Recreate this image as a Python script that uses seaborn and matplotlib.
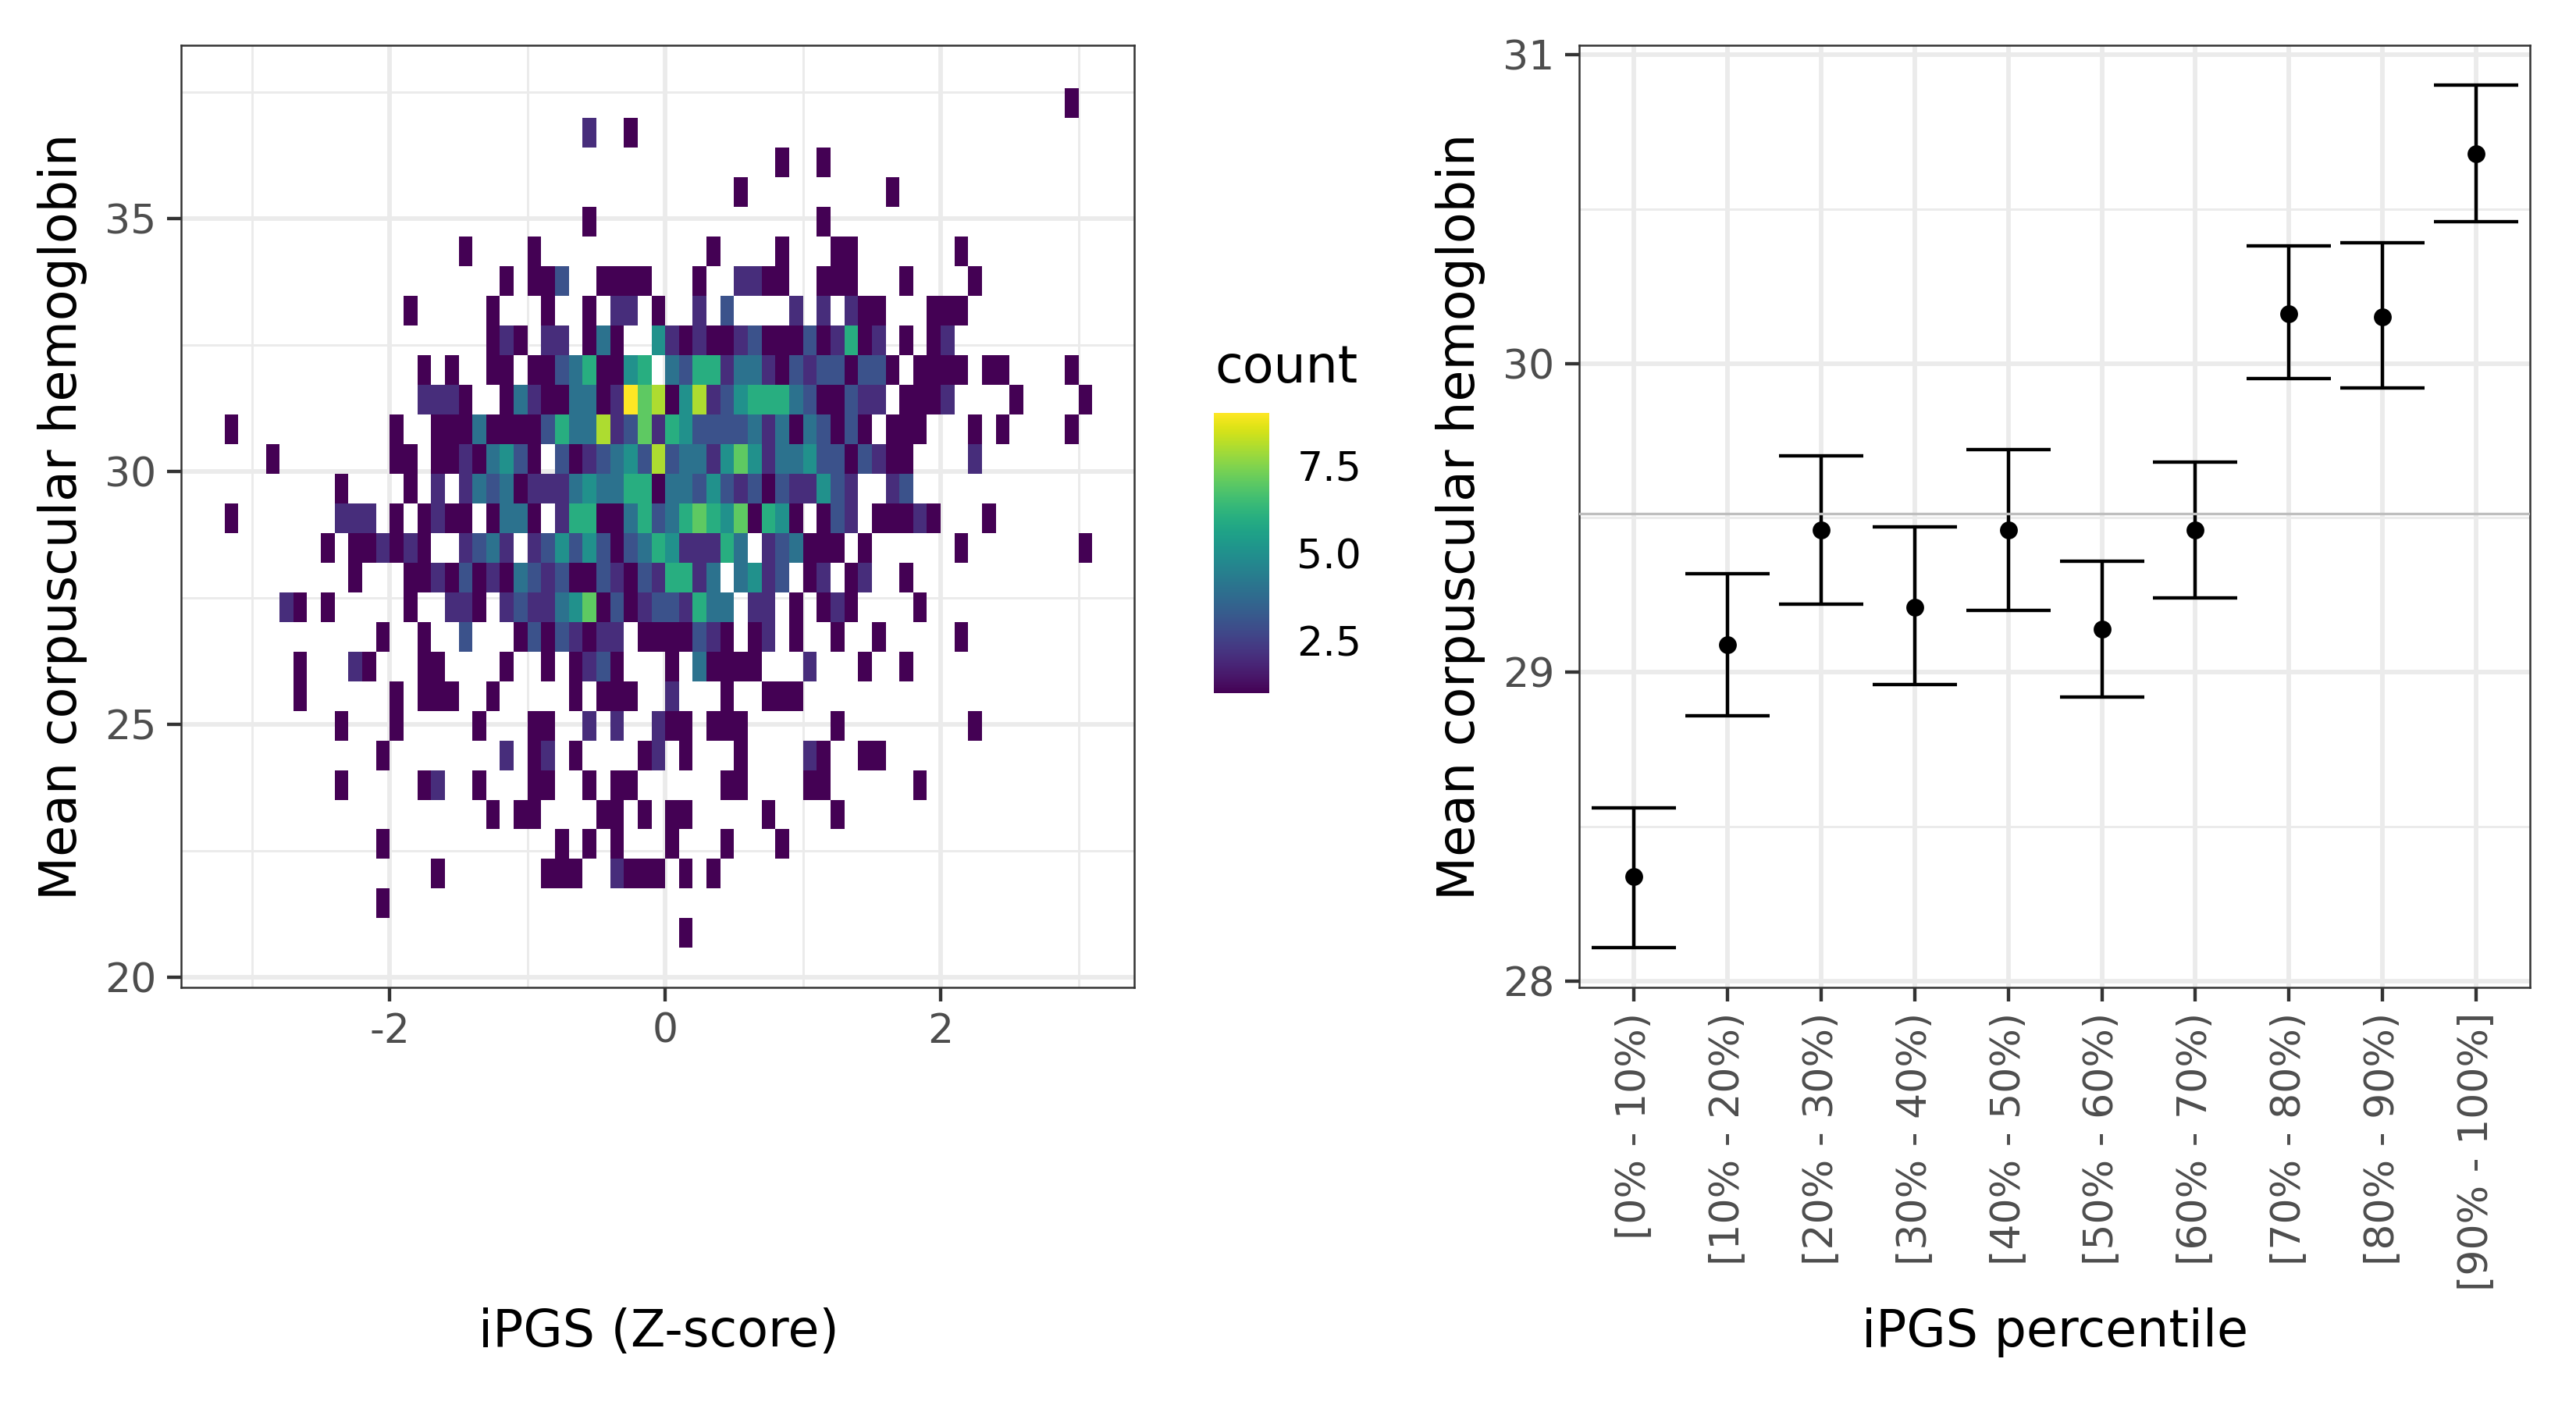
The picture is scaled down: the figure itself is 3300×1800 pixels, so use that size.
import numpy as np
import pandas as pd
import matplotlib
matplotlib.use("Agg")
import matplotlib.pyplot as plt
import seaborn as sns

# ---- left panel: bin counts. row index (y bin) -> {column index (x bin): count}
count_rows = {
    28: {61: 1},
    27: {26: 2, 29: 1},
    26: {40: 1, 43: 1},
    25: {37: 1, 48: 1},
    24: {26: 1, 43: 1},
    23: {17: 1, 22: 1, 35: 1, 40: 1, 44: 1, 45: 1, 53: 1},
    22: {20: 1, 22: 1, 23: 1, 24: 3, 27: 1, 28: 1, 29: 1, 30: 1, 34: 1, 37: 2, 38: 2, 39: 1, 40: 1,
         43: 1, 44: 1, 45: 1, 49: 1, 54: 1},
    21: {13: 1, 19: 1, 23: 1, 26: 1, 28: 2, 29: 2, 31: 1, 34: 2, 36: 3, 41: 2, 43: 2, 45: 2, 46: 1,
         47: 1, 51: 1, 52: 1, 53: 1},
    20: {19: 1, 20: 2, 21: 1, 23: 2, 24: 2, 26: 1, 27: 4, 28: 1, 31: 5, 32: 2, 33: 1, 34: 2, 35: 1,
         36: 1, 37: 2, 38: 3, 39: 1, 40: 1, 41: 1, 42: 3, 43: 1, 44: 2, 45: 6, 46: 1, 47: 2, 49: 1,
         51: 1, 52: 2},
    19: {14: 1, 16: 1, 19: 1, 20: 1, 22: 1, 23: 1, 24: 3, 25: 4, 26: 6, 27: 1, 28: 1, 29: 5, 30: 6,
         32: 4, 33: 3, 34: 6, 35: 6, 36: 2, 37: 4, 38: 4, 39: 2, 40: 1, 41: 3, 42: 2, 43: 3, 44: 3,
         45: 1, 46: 3, 47: 3, 48: 1, 50: 1, 51: 1, 52: 1, 53: 1, 55: 1, 56: 1, 61: 1},
    18: {14: 2, 15: 2, 16: 2, 17: 1, 20: 1, 21: 4, 22: 2, 23: 1, 24: 1, 25: 4, 26: 4, 27: 1, 28: 2,
         29: 9, 30: 7, 31: 8, 32: 1, 33: 5, 34: 8, 35: 2, 36: 3, 37: 5, 38: 6, 39: 6, 40: 6, 41: 4,
         42: 3, 43: 1, 44: 1, 45: 3, 46: 2, 47: 2, 49: 1, 50: 1, 51: 1, 52: 2, 57: 1, 62: 1},
    17: {0: 1, 12: 1, 15: 1, 16: 1, 17: 1, 18: 4, 19: 1, 20: 1, 21: 1, 22: 1, 23: 3, 24: 6, 25: 4,
         26: 4, 27: 8, 28: 2, 29: 3, 30: 7, 31: 2, 32: 6, 33: 5, 34: 3, 35: 3, 36: 3, 37: 3, 38: 4,
         39: 2, 40: 4, 41: 1, 42: 4, 43: 3, 44: 1, 45: 3, 46: 1, 48: 1, 49: 1, 50: 1, 54: 1, 56: 1, 61: 1},
    16: {3: 1, 12: 1, 13: 1, 15: 1, 16: 1, 17: 2, 18: 1, 19: 4, 20: 5, 21: 3, 22: 1, 24: 3, 25: 1,
         26: 2, 27: 3, 28: 4, 29: 5, 30: 3, 31: 8, 32: 3, 33: 4, 34: 4, 35: 2, 36: 5, 37: 7, 38: 5,
         39: 2, 40: 4, 41: 4, 42: 5, 43: 3, 44: 3, 45: 1, 46: 3, 47: 2, 48: 1, 49: 1, 54: 2},
    15: {8: 1, 13: 1, 15: 2, 17: 2, 18: 4, 19: 3, 20: 4, 21: 1, 22: 2, 23: 2, 24: 2, 25: 4, 26: 5,
         27: 4, 28: 4, 29: 6, 30: 6, 31: 1, 32: 4, 33: 4, 34: 3, 35: 5, 36: 3, 37: 2, 38: 3, 39: 1,
         40: 3, 41: 2, 42: 2, 43: 5, 44: 3, 45: 2, 48: 2, 49: 3},
    14: {0: 1, 8: 2, 9: 2, 10: 2, 12: 1, 14: 1, 15: 2, 16: 1, 17: 1, 19: 1, 20: 4, 21: 4, 22: 1, 24: 2,
         25: 6, 26: 6, 27: 1, 28: 1, 29: 4, 30: 6, 31: 3, 32: 4, 33: 6, 34: 7, 35: 6, 36: 5, 37: 7,
         38: 1, 39: 6, 40: 5, 41: 1, 43: 1, 44: 3, 45: 2, 47: 1, 48: 1, 49: 1, 50: 2, 51: 1, 55: 1},
    13: {7: 1, 9: 1, 10: 1, 11: 2, 12: 1, 13: 2, 14: 1, 17: 2, 18: 3, 19: 4, 20: 2, 22: 2, 23: 3, 24: 5,
         25: 3, 26: 5, 27: 3, 28: 1, 29: 3, 30: 4, 31: 6, 32: 5, 33: 2, 34: 2, 35: 2, 36: 6, 37: 4,
         39: 2, 40: 3, 41: 4, 42: 1, 43: 1, 44: 1, 46: 1, 53: 1, 62: 1},
    12: {9: 1, 13: 1, 14: 1, 15: 2, 16: 1, 17: 3, 18: 1, 19: 2, 20: 1, 21: 4, 22: 3, 23: 2, 24: 3,
         25: 1, 26: 1, 27: 3, 28: 2, 29: 1, 30: 3, 31: 2, 32: 6, 33: 6, 34: 2, 35: 4, 37: 4, 38: 5,
         39: 2, 40: 3, 42: 1, 43: 2, 45: 1, 46: 2, 49: 1},
    11: {4: 2, 5: 1, 7: 1, 13: 1, 16: 2, 17: 2, 18: 1, 20: 2, 21: 3, 22: 2, 23: 2, 24: 4, 25: 5, 26: 7,
         27: 1, 28: 3, 29: 1, 30: 2, 31: 3, 32: 3, 33: 2, 34: 6, 35: 4, 36: 4, 38: 2, 39: 2, 41: 1,
         43: 1, 44: 2, 45: 1, 50: 1},
    10: {11: 1, 14: 1, 17: 3, 21: 1, 22: 3, 23: 1, 24: 3, 25: 2, 26: 1, 27: 2, 28: 2, 30: 1, 31: 1,
         32: 1, 33: 1, 34: 3, 35: 2, 36: 1, 38: 1, 39: 2, 41: 1, 44: 1, 47: 1, 53: 1},
    9: {5: 1, 9: 2, 10: 1, 14: 1, 15: 1, 20: 1, 23: 1, 25: 1, 26: 2, 27: 3, 28: 1, 32: 1, 34: 4, 35: 1,
        36: 1, 37: 1, 38: 1, 42: 2, 46: 1, 49: 1},
    8: {5: 1, 12: 1, 14: 1, 15: 1, 16: 1, 19: 1, 25: 1, 27: 1, 28: 1, 29: 1, 32: 2, 36: 1, 39: 1, 40: 1, 41: 1},
    7: {8: 1, 12: 1, 18: 1, 22: 1, 23: 1, 26: 2, 28: 2, 31: 2, 32: 1, 33: 1, 35: 1, 36: 1, 37: 1, 44: 1, 54: 1},
    6: {11: 1, 20: 2, 22: 1, 23: 2, 25: 1, 30: 1, 31: 2, 33: 1, 37: 1, 42: 2, 43: 1, 46: 1, 47: 1},
    5: {8: 1, 14: 1, 15: 2, 18: 1, 22: 1, 23: 1, 26: 1, 28: 1, 29: 1, 36: 1, 37: 1, 42: 1, 43: 1, 50: 1},
    4: {19: 1, 21: 1, 22: 1, 27: 1, 28: 1, 30: 1, 32: 1, 33: 1, 39: 1, 44: 1},
    3: {11: 1, 24: 1, 26: 1, 28: 1, 32: 1, 36: 1, 40: 1},
    2: {15: 1, 23: 1, 24: 1, 25: 1, 28: 2, 29: 1, 30: 1, 31: 1, 33: 1, 35: 1},
    1: {11: 1},
    0: {33: 1},
}

# ---- right panel
percentiles = ["[0% - 10%)", "[10% - 20%)", "[20% - 30%)", "[30% - 40%)", "[40% - 50%)",
               "[50% - 60%)", "[60% - 70%)", "[70% - 80%)", "[80% - 90%)", "[90% - 100%]"]
means = [28.34, 29.09, 29.46, 29.21, 29.46, 29.14, 29.46, 30.16, 30.15, 30.68]
lowers = [28.11, 28.86, 29.22, 28.96, 29.20, 28.92, 29.24, 29.95, 29.92, 30.46]
uppers = [28.56, 29.32, 29.70, 29.47, 29.72, 29.36, 29.68, 30.38, 30.39, 30.90]
overall_mean = 29.515

W, H = 3300, 1800
TICK = "#4D4D4D"
BORDER = "#333333"
GRID = "#EBEBEB"
TITLE_SIZE = 15.6
TICK_SIZE = 12.5

sns.set_theme(style="white", font="DejaVu Sans")


def axes_px(l, t, r, b):
    return [l / W, 1 - b / H, (r - l) / W, (b - t) / H]


def style(ax):
    ax.set_axisbelow(True)
    ax.grid(True, which="major", color=GRID, lw=1.4)
    ax.grid(True, which="minor", color=GRID, lw=0.7)
    ax.tick_params(which="major", length=4.4, width=1.05, color=BORDER,
                   labelcolor=TICK, labelsize=TICK_SIZE, pad=3.2,
                   bottom=True, left=True)
    ax.tick_params(which="minor", length=0)
    for s in ax.spines.values():
        s.set_visible(True)
        s.set_color(BORDER)
        s.set_linewidth(0.6)


fig = plt.figure(figsize=(W / 300, H / 300), dpi=300, facecolor="white")
ax1 = fig.add_axes(axes_px(232, 58, 1453, 1265))
ax2 = fig.add_axes(axes_px(2023, 58, 3241, 1265))
cax = fig.add_axes(axes_px(1555, 529, 1626, 888))

# ---- left: binned counts
x_edges = np.round(np.arange(-3.2, 3.1 + 0.05, 0.1), 2)
y_edges = 20.58 + 0.5864 * np.arange(30)
recs = [(x_edges[k] + 0.05, y_edges[j] + 0.2932, c)
        for j, row in count_rows.items() for k, c in row.items()]
df = pd.DataFrame(recs, columns=["z", "mch", "n"])
sns.histplot(data=df, x="z", y="mch", weights="n", bins=[x_edges, y_edges], cmap="viridis",
             vmin=1, vmax=9, thresh=0, ax=ax1, cbar=True, cbar_ax=cax)
ax1.set_xlim(-3.515, 3.405)
ax1.set_ylim(19.8, 38.43)
ax1.set_xticks([-2, 0, 2])
ax1.set_xticks([-3, -1, 1, 3], minor=True)
ax1.set_yticks([20, 25, 30, 35])
ax1.set_yticks([22.5, 27.5, 32.5, 37.5], minor=True)
ax1.set_xticklabels(["-2", "0", "2"])
style(ax1)

# colourbar
cax.set_yticks([2.5, 5.0, 7.5])
cax.set_yticklabels(["2.5", "5.0", "7.5"])
cax.tick_params(axis="y", direction="in", length=3.4, width=0.45, color="white",
                left=True, right=True, labelleft=False, labelright=True,
                labelsize=TICK_SIZE, labelcolor="black", pad=8.5)
cax.minorticks_off()
for s in cax.spines.values():
    s.set_visible(False)
fig.text(1556 / W, 1 - 490 / H, "count", fontsize=TITLE_SIZE, color="black", ha="left", va="baseline")

# ---- right: mean with error bars
pos = np.arange(len(percentiles))
sns.scatterplot(x=percentiles, y=means, color="black", s=30, linewidth=0, ax=ax2, zorder=4)
ax2.errorbar(pos, means,
             yerr=[np.array(means) - np.array(lowers), np.array(uppers) - np.array(means)],
             fmt="none", ecolor="black", elinewidth=1.05, capsize=12.9, capthick=1.05, zorder=3)
ax2.axhline(overall_mean, color="#BEBEBE", lw=0.8, zorder=5)
ax2.set_xlim(-0.585, 9.575)
ax2.set_ylim(27.98, 31.03)
ax2.set_yticks([28, 29, 30, 31])
ax2.set_yticks([28.5, 29.5, 30.5], minor=True)
ax2.set_xticks(pos)
ax2.set_xticklabels(percentiles, rotation=90, ha="center", va="top")
style(ax2)

# ---- axis titles
ax1.set_xlabel("iPGS (Z-score)", fontsize=TITLE_SIZE, color="black")
ax2.set_xlabel("iPGS percentile", fontsize=TITLE_SIZE, color="black")
ax1.set_ylabel("Mean corpuscular hemoglobin", fontsize=TITLE_SIZE, color="black")
ax2.set_ylabel("Mean corpuscular hemoglobin", fontsize=TITLE_SIZE, color="black")
ty = (1707 - 58) / (1265 - 58)
ax1.xaxis.set_label_coords((844 - 232) / (1453 - 232), 1 - ty)
ax2.xaxis.set_label_coords((2633 - 2023) / (3241 - 2023), 1 - ty)
ax1.yaxis.set_label_coords((80 - 232) / (1453 - 232), 0.5)
ax2.yaxis.set_label_coords((1871 - 2023) / (3241 - 2023), 0.5)
ax1.xaxis.label.set_verticalalignment("center")
ax2.xaxis.label.set_verticalalignment("center")
ax1.yaxis.label.set_verticalalignment("center")
ax2.yaxis.label.set_verticalalignment("center")

fig.savefig("out.png", dpi=300)
